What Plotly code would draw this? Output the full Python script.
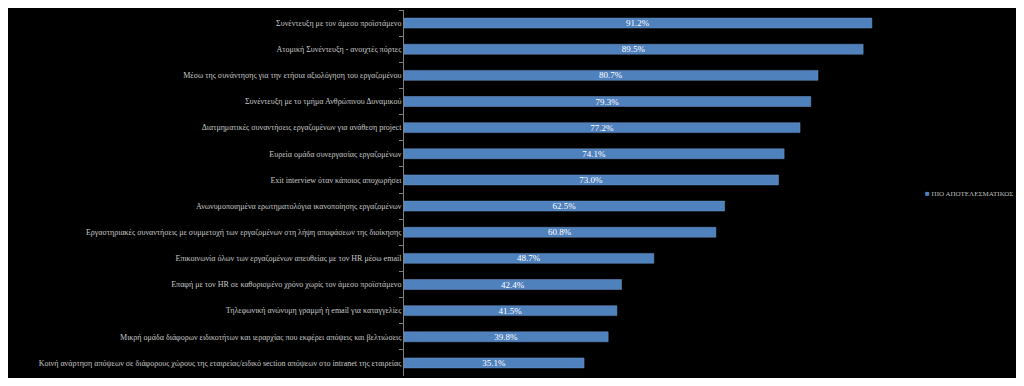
import plotly.graph_objects as go

categories = [
    "Συνέντευξη με τον άμεσο προϊστάμενο",
    "Ατομική Συνέντευξη - ανοιχτές πόρτες",
    "Μέσω της συνάντησης για την ετήσια αξιολόγηση του εργαζομένου",
    "Συνέντευξη με το τμήμα Ανθρώπινου Δυναμικού",
    "Διατμηματικές συναντήσεις εργαζομένων για ανάθεση project",
    "Ευρεία ομάδα συνεργασίας εργαζομένων",
    "Exit interview όταν κάποιος αποχωρήσει",
    "Ανωνυμοποιημένα ερωτηματολόγια ικανοποίησης εργαζομένων",
    "Εργαστηριακές συναντήσεις με συμμετοχή των εργαζομένων στη λήψη αποφάσεων της διοίκησης",
    "Επικοινωνία όλων των εργαζομένων απευθείας με τον HR μέσω email",
    "Επαφή με τον HR σε καθορισμένο χρόνο χωρίς τον άμεσο προϊστάμενο",
    "Τηλεφωνική ανώνυμη γραμμή ή email για καταγγελίες",
    "Μικρή ομάδα διάφορων ειδικοτήτων και ιεραρχίας που εκφέρει απόψεις και βελτιώσεις",
    "Κοινή ανάρτηση απόψεων σε διάφορους χώρους της εταιρείας/ειδικό section απόψεων στο intranet της εταιρείας",
]
values = [91.2, 89.5, 80.7, 79.3, 77.2, 74.1, 73.0, 62.5, 60.8, 48.7, 42.4, 41.5, 39.8, 35.1]
series_name = "ΠΙΟ ΑΠΟΤΕΛΕΣΜΑΤΙΚΟΣ"

BAR = "#4f81bd"
FONT = "Liberation Serif, DejaVu Serif, serif"

fig = go.Figure()
fig.add_trace(go.Bar(
    x=values, y=categories, orientation="h", name=series_name,
    marker=dict(color=BAR, line=dict(color="#6f97c9", width=0.5)),
    text=[f"{v:.1f}%" for v in values],
    textposition="inside", insidetextanchor="middle",
    textfont=dict(family=FONT, size=9, color="#ffffff"),
    constraintext="none",
    showlegend=False, hoverinfo="skip",
))

fig.add_annotation(
    xref="paper", yref="paper", x=1.012, y=0.5, xanchor="left", yanchor="middle",
    showarrow=False,
    text=f"<span style='color:{BAR};font-size:8px'>■</span> {series_name}",
    font=dict(family=FONT, size=7, color="#bfbfbf"),
)

fig.update_layout(
    width=1008, height=370,
    paper_bgcolor="#000000", plot_bgcolor="#000000",
    margin=dict(l=396, r=99, t=2, b=2, autoexpand=False),
    bargap=0.62,
    showlegend=False,
    font=dict(family=FONT, size=9, color="#bfbfbf"),
)
fig.update_xaxes(range=[0, 100], visible=False, showgrid=False, zeroline=False)
fig.update_yaxes(autorange="reversed", showgrid=False, zeroline=False,
                 showline=True, linecolor="#7f7f7f", linewidth=1,
                 ticks="outside", tickson="boundaries", ticklen=4, tickcolor="#7f7f7f",
                 tickfont=dict(family=FONT, size=8, color="#c8c8c8"))

fig.write_html("out.html")
